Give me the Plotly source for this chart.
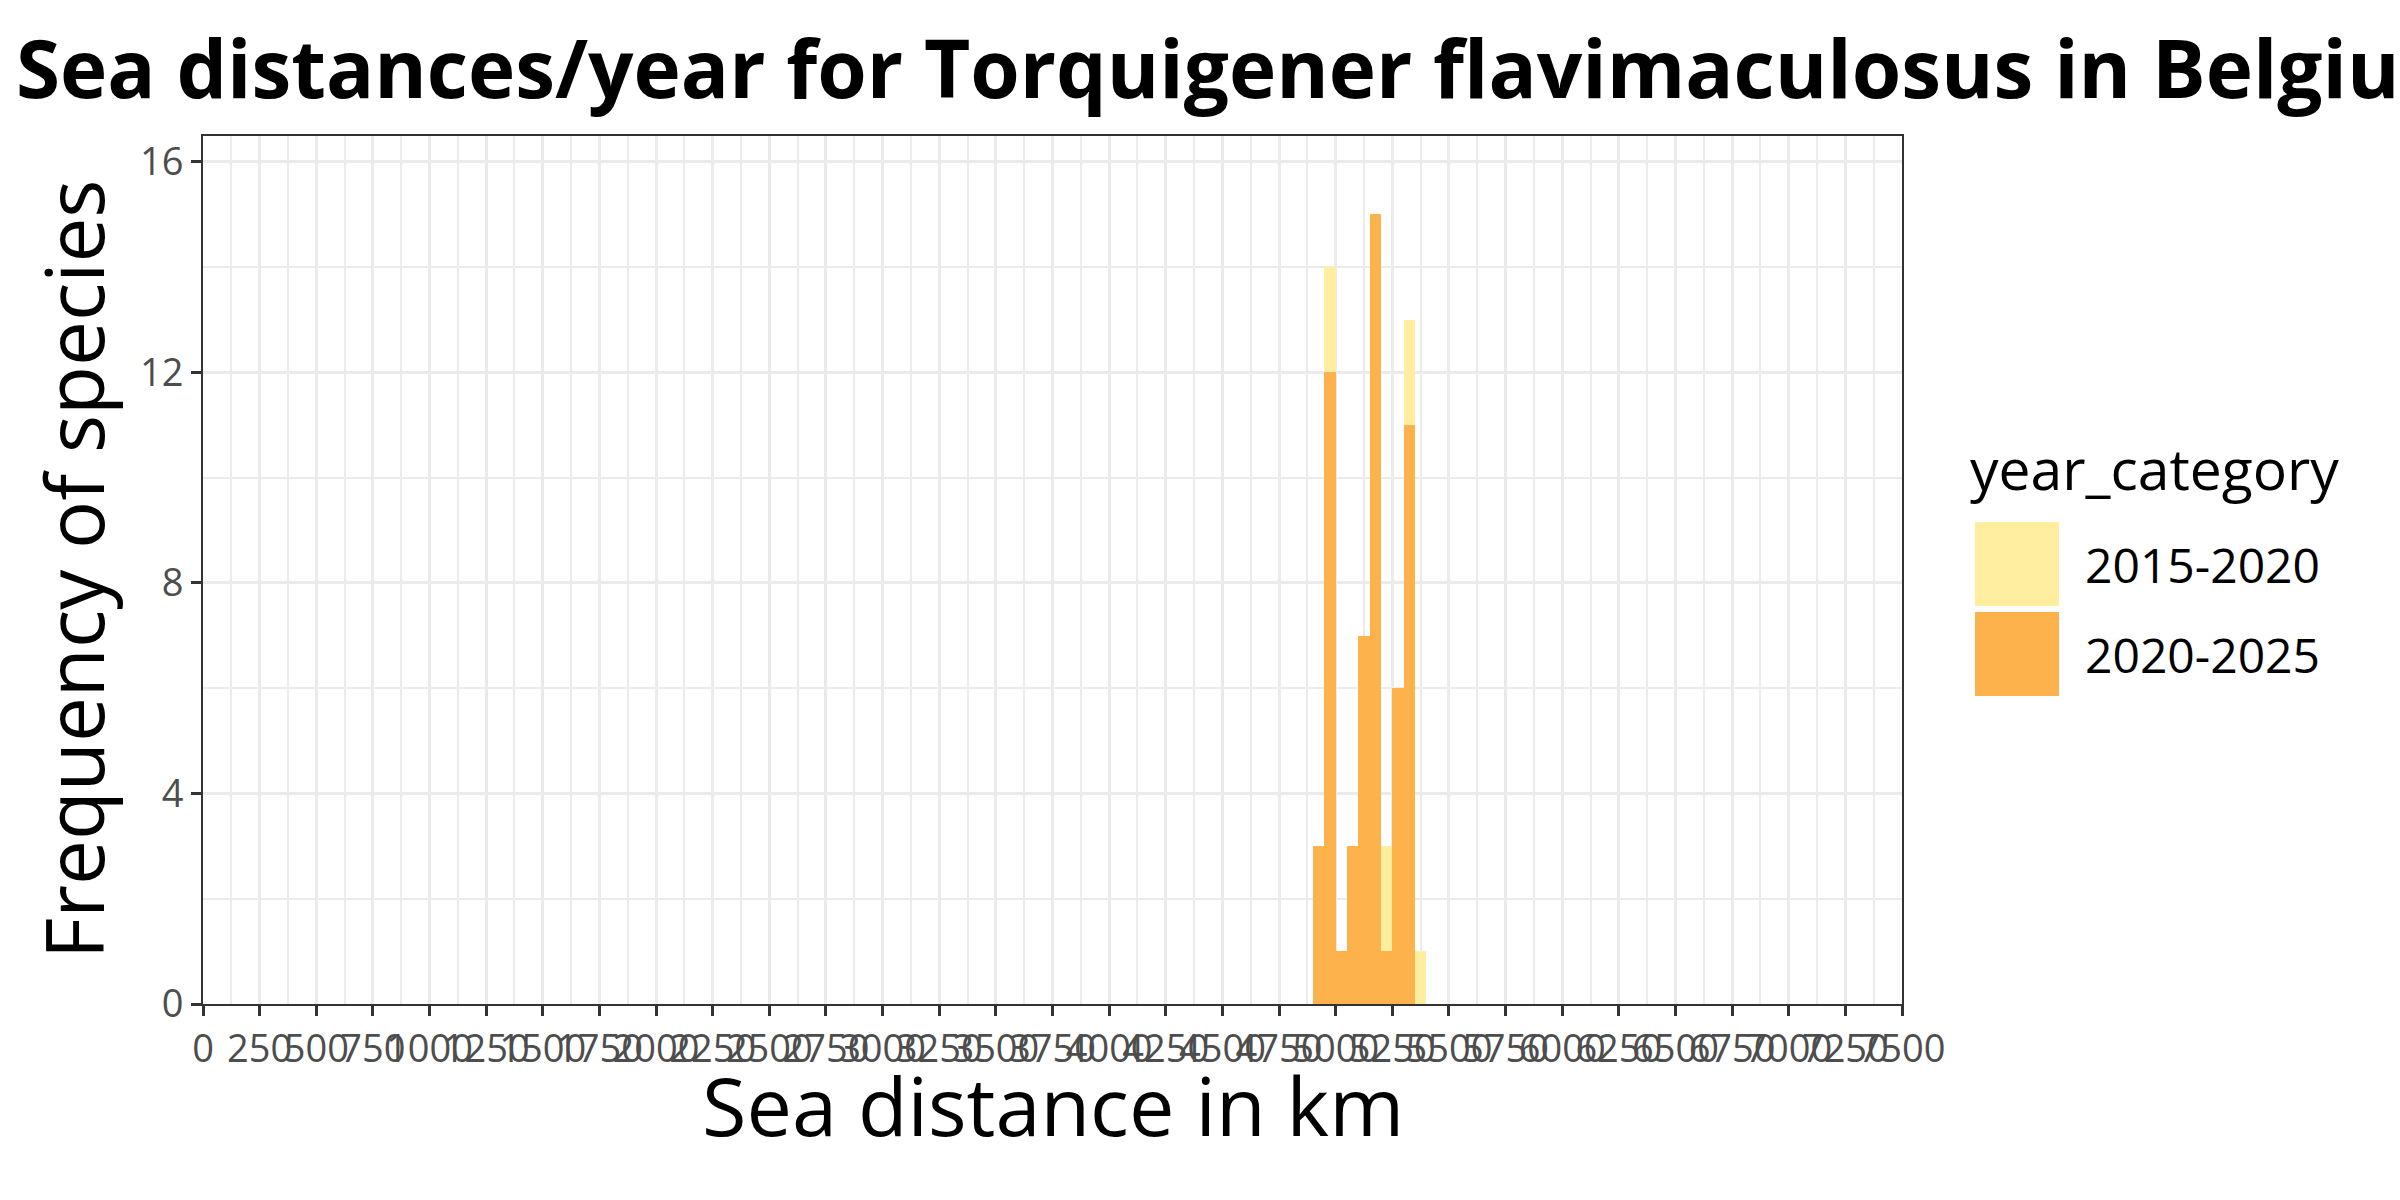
import plotly.graph_objects as go

# ---- data ----
bin_start = [4900, 4950, 5000, 5050, 5100, 5150, 5200, 5250, 5300, 5350]
bin_width = 50
categories = ["2015-2020", "2020-2025"]
count_2015_2020 = [0, 2, 0, 0, 0, 0, 2, 0, 2, 1]
count_2020_2025 = [3, 12, 1, 3, 7, 15, 1, 6, 11, 0]
colors = {"2015-2020": "#FFEDA0", "2020-2025": "#FEB24C"}
x_ticks = list(range(0, 7501, 250))
y_ticks = [0, 4, 8, 12, 16]

title_text = "Sea distances/year for Torquigener flavimaculosus in Belgium"
x_title = "Sea distance in km"
y_title = "Frequency of species"
legend_title = "year_category"

W, H = 2400, 1200
L, R, T, B = 203, 1902, 136, 1004
PW, PH = R - L, B - T
FONT = "Open Sans"


def px_x(x):
    return (x - L) / PW


def px_y(y):
    return (B - y) / PH


centers = [s + bin_width / 2 for s in bin_start]

fig = go.Figure()
# ggplot stacks the first level on top -> draw 2020-2025 first (bottom)
fig.add_trace(go.Bar(x=centers, y=count_2020_2025, width=bin_width,
                     name="2020-2025", marker=dict(color=colors["2020-2025"], line=dict(width=0)),
                     showlegend=False))
fig.add_trace(go.Bar(x=centers, y=count_2015_2020, width=bin_width,
                     name="2015-2020", marker=dict(color=colors["2015-2020"], line=dict(width=0)),
                     showlegend=False))

shapes = []
annotations = []

# legend drawn as keys + labels
key_left, key_size, key_gap, key_top0 = 1975, 84, 6, 522
for i, cat in enumerate(categories):
    top = key_top0 + i * (key_size + key_gap)
    shapes.append(dict(type="rect", xref="paper", yref="paper",
                       x0=px_x(key_left), x1=px_x(key_left + key_size),
                       y0=px_y(top + key_size), y1=px_y(top),
                       fillcolor=colors[cat], line=dict(width=0), layer="above"))
    annotations.append(dict(text=cat, xref="paper", yref="paper",
                            x=px_x(2083), y=px_y(top + key_size / 2),
                            xanchor="left", yanchor="middle", showarrow=False,
                            font=dict(family=FONT, size=48, color="black")))
annotations.append(dict(text=legend_title, xref="paper", yref="paper",
                        x=px_x(1968), y=px_y(468), xanchor="left", yanchor="middle",
                        showarrow=False, font=dict(family=FONT, size=57, color="black")))

# axis titles
annotations.append(dict(text=x_title, xref="paper", yref="paper",
                        x=px_x((L + R) / 2), y=px_y(1104), xanchor="center", yanchor="middle",
                        showarrow=False, font=dict(family=FONT, size=81, color="black")))
annotations.append(dict(text=y_title, xref="paper", yref="paper",
                        x=px_x(72), y=px_y((T + B) / 2), xanchor="center", yanchor="middle",
                        textangle=-90, showarrow=False,
                        font=dict(family=FONT, size=80, color="black")))

fig.update_layout(
    width=W, height=H,
    margin=dict(l=L, r=W - R, t=T, b=H - B, pad=0, autoexpand=False),
    paper_bgcolor="white", plot_bgcolor="white",
    barmode="stack", bargap=0,
    title=dict(text="<b>" + title_text + "</b>", x=16 / W, xanchor="left", xref="container",
               y=1 - 70 / H, yanchor="middle", yref="container",
               font=dict(family=FONT, size=80, color="black")),
    shapes=shapes, annotations=annotations,
    showlegend=False,
)

fig.update_xaxes(
    range=[0, 7500], tickmode="array", tickvals=x_ticks, ticktext=[str(v) for v in x_ticks],
    tickangle=0, automargin=False,
    showgrid=True, gridcolor="#EBEBEB", gridwidth=3,
    minor=dict(tickmode="linear", dtick=125, tick0=125, showgrid=True, gridcolor="#EBEBEB", gridwidth=1.5, ticks=""),
    ticks="outside", ticklen=10, tickwidth=3, tickcolor="#333333",
    tickfont=dict(family=FONT, size=38, color="#4D4D4D"),
    showline=True, linecolor="#333333", linewidth=2, mirror=True, zeroline=False,
)
fig.update_yaxes(
    range=[0, 16.49], tickmode="array", tickvals=y_ticks, ticktext=[str(v) for v in y_ticks],
    automargin=False,
    showgrid=True, gridcolor="#EBEBEB", gridwidth=3,
    minor=dict(tickmode="linear", dtick=2, tick0=2, showgrid=True, gridcolor="#EBEBEB", gridwidth=1.5, ticks=""),
    ticks="outside", ticklen=10, tickwidth=3, tickcolor="#333333",
    tickfont=dict(family=FONT, size=38, color="#4D4D4D"),
    showline=True, linecolor="#333333", linewidth=2, mirror=True, zeroline=False,
)

fig.write_html("out.html", config={"displayModeBar": False},
               post_script="document.body.style.margin='0';")
